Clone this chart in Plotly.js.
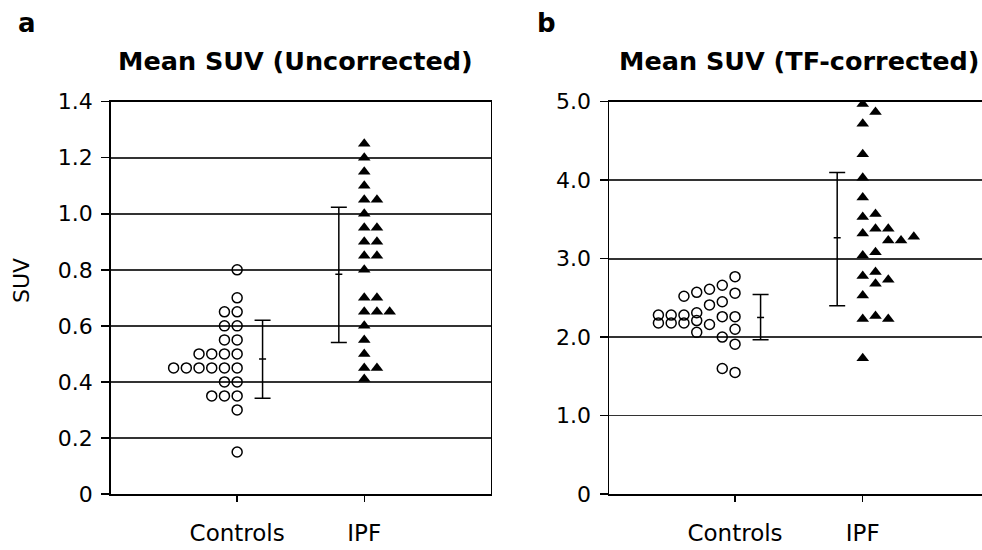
<!DOCTYPE html>
<html>
<head>
<meta charset="utf-8">
<script src="https://cdn.plot.ly/plotly-3.0.1.min.js"></script>
<style>html,body{margin:0;padding:0;background:#fff;}#chart{width:982px;height:550px;}</style>
</head>
<body>
<div id="chart"></div>
<script>
// ---------- data ----------
const categories = ['Controls', 'IPF'];

// Panel a: Mean SUV (Uncorrected)
const ctrlUncorr = [0.80, 0.70, 0.65, 0.65, 0.60, 0.60, 0.55, 0.55,
  0.50, 0.50, 0.50, 0.50, 0.45, 0.45, 0.45, 0.45, 0.45, 0.45,
  0.40, 0.40, 0.35, 0.35, 0.35, 0.30, 0.15];
const ipfUncorr = [1.25, 1.20, 1.15, 1.10, 1.05, 1.05, 1.00, 0.95, 0.95,
  0.90, 0.90, 0.85, 0.85, 0.80, 0.70, 0.70, 0.65, 0.65, 0.65,
  0.60, 0.55, 0.50, 0.45, 0.45, 0.41];
const uncorrMean = [0.482, 0.784];
const uncorrUpper = [0.620, 1.023];
const uncorrLower = [0.342, 0.541];

// Panel b: Mean SUV (TF-corrected)
const ctrlTF = [2.77, 2.56, 2.26, 2.10, 1.91, 1.55,
  2.66, 2.45, 2.26, 2.00, 1.60,
  2.61, 2.41, 2.16,
  2.57, 2.31, 2.21, 2.06,
  2.52, 2.28, 2.18,
  2.28, 2.18,
  2.28, 2.18];
const ctrlTFColumn = [0, 0, 0, 0, 0, 0,
  1, 1, 1, 1, 1,
  2, 2, 2,
  3, 3, 3, 3,
  4, 4, 4,
  5, 5,
  6, 6];
const ipfTF = [4.97, 4.87, 4.72, 4.33, 4.03, 3.78, 3.53, 3.57, 3.32, 3.38, 3.38,
  3.23, 3.23, 3.28, 3.04, 3.08, 2.78, 2.83, 2.68, 2.73, 2.53, 2.23, 2.27, 2.23, 1.73];
const ipfTFColumn = [0, 1, 0, 0, 0, 0, 0, 1, 0, 1, 2,
  2, 3, 4, 0, 1, 0, 1, 1, 2, 0, 0, 1, 2, 0];
const tfMean = [2.250, 3.265];
const tfUpper = [2.544, 4.098];
const tfLower = [1.966, 2.399];

const yTicksA = [0, 0.2, 0.4, 0.6, 0.8, 1.0, 1.2, 1.4];
const yTickTextA = ['0', '0.2', '0.4', '0.6', '0.8', '1.0', '1.2', '1.4'];
const yTicksB = [0, 1, 2, 3, 4, 5];
const yTickTextB = ['0', '1.0', '2.0', '3.0', '4.0', '5.0'];

// ---------- layout helpers ----------
const STEP = 0.1;      // horizontal spacing of stacked dots (axis units)
const BAR_OFF = 0.2;   // offset of summary bars from the category

// stack equal values side by side
function stackColumns(vals) {
  const seen = {};
  return vals.map(v => {
    const k = v.toFixed(3);
    seen[k] = (seen[k] || 0);
    return seen[k]++;
  });
}
function xs(catIndex, cols, dir) {
  return cols.map(c => (catIndex + 1) + dir * c * STEP);
}

const circle = {symbol: 'circle-open', size: 10, color: '#000', line: {color: '#000', width: 1.5}};
const tri = {symbol: 'triangle-up', size: 11, color: '#000', line: {width: 0}};

function summaryTrace(mean, up, lo, xa, ya) {
  return {
    type: 'scatter', mode: 'markers', xaxis: xa, yaxis: ya,
    x: [1 + BAR_OFF, 2 - BAR_OFF], y: mean,
    marker: {symbol: 'line-ew', size: 5, color: '#000', line: {color: '#000', width: 1.5}},
    error_y: {type: 'data', symmetric: false,
      array: up.map((u, i) => u - mean[i]),
      arrayminus: lo.map((l, i) => mean[i] - l),
      color: '#000', thickness: 1.5, width: 8},
    hoverinfo: 'skip'
  };
}

const traces = [
  {type: 'scatter', mode: 'markers', xaxis: 'x', yaxis: 'y',
   x: xs(0, stackColumns(ctrlUncorr), -1), y: ctrlUncorr, marker: circle, name: categories[0]},
  {type: 'scatter', mode: 'markers', xaxis: 'x', yaxis: 'y',
   x: xs(1, stackColumns(ipfUncorr), 1), y: ipfUncorr, marker: tri, name: categories[1]},
  summaryTrace(uncorrMean, uncorrUpper, uncorrLower, 'x', 'y'),
  {type: 'scatter', mode: 'markers', xaxis: 'x2', yaxis: 'y2',
   x: xs(0, ctrlTFColumn, -1), y: ctrlTF, marker: circle, name: categories[0]},
  {type: 'scatter', mode: 'markers', xaxis: 'x2', yaxis: 'y2',
   x: xs(1, ipfTFColumn, 1), y: ipfTF, marker: tri, name: categories[1]},
  summaryTrace(tfMean, tfUpper, tfLower, 'x2', 'y2')
];

const FONT = 'DejaVu Sans, Liberation Sans, sans-serif';
const W = 982, H = 550;
const yDom = [(H - 494) / H, (H - 101.7) / H];

function xAxis(domain, range, anchor) {
  return {
    domain: domain, range: range, anchor: anchor,
    tickvals: [1, 2], ticktext: categories,
    ticks: 'outside', ticklen: 6, tickwidth: 1.5, tickcolor: '#000',
    showline: true, linecolor: '#000', linewidth: 1.5, mirror: true,
    showgrid: false, zeroline: false,
    ticklabelstandoff: 12,
    tickfont: {family: FONT, size: 23, color: '#000'}
  };
}
function yAxis(range, vals, text, anchor, mirror) {
  return {
    domain: yDom, range: range, anchor: anchor,
    tickvals: vals, ticktext: text,
    ticks: 'outside', ticklen: 8, tickwidth: 1.5, tickcolor: '#000',
    showline: true, linecolor: '#000', linewidth: 1.5, mirror: mirror,
    showgrid: true, gridcolor: '#333', gridwidth: 1.8,
    zeroline: false,
    ticklabelstandoff: 4,
    tickfont: {family: FONT, size: 22, color: '#000'}
  };
}

const layout = {
  width: W, height: H,
  margin: {l: 0, r: 0, t: 0, b: 0},
  paper_bgcolor: '#fff', plot_bgcolor: '#fff',
  showlegend: false,
  xaxis: xAxis([110.7 / W, 490.7 / W], [0.005, 2.995], 'y'),
  yaxis: yAxis([0, 1.4], yTicksA, yTickTextA, 'x', true),
  xaxis2: xAxis([609 / W, 1], [0.013, 2.934], 'y2'),
  yaxis2: yAxis([0, 5], yTicksB, yTickTextB, 'x2', false),
  annotations: [
    {text: '<b>a</b>', xref: 'paper', yref: 'paper', x: 27 / W, y: (H - 23) / H,
     xanchor: 'center', yanchor: 'middle', showarrow: false,
     font: {family: FONT, size: 26, color: '#000'}},
    {text: '<b>b</b>', xref: 'paper', yref: 'paper', x: 546 / W, y: (H - 23) / H,
     xanchor: 'center', yanchor: 'middle', showarrow: false,
     font: {family: FONT, size: 26, color: '#000'}},
    {text: '<b>Mean SUV (Uncorrected)</b>', xref: 'paper', yref: 'paper', x: 295 / W, y: (H - 61) / H,
     xanchor: 'center', yanchor: 'middle', showarrow: false,
     font: {family: FONT, size: 25.5, color: '#000'}},
    {text: '<b>Mean SUV (TF-corrected)</b>', xref: 'paper', yref: 'paper', x: 799 / W, y: (H - 61) / H,
     xanchor: 'center', yanchor: 'middle', showarrow: false,
     font: {family: FONT, size: 25.5, color: '#000'}},
    {text: 'SUV', xref: 'paper', yref: 'paper', x: 21 / W, y: (H - 281) / H,
     xanchor: 'center', yanchor: 'middle', showarrow: false, textangle: -90,
     font: {family: FONT, size: 22, color: '#000'}}
  ]
};

Plotly.newPlot('chart', traces, layout, {displayModeBar: false, staticPlot: true});
</script>
</body>
</html>
